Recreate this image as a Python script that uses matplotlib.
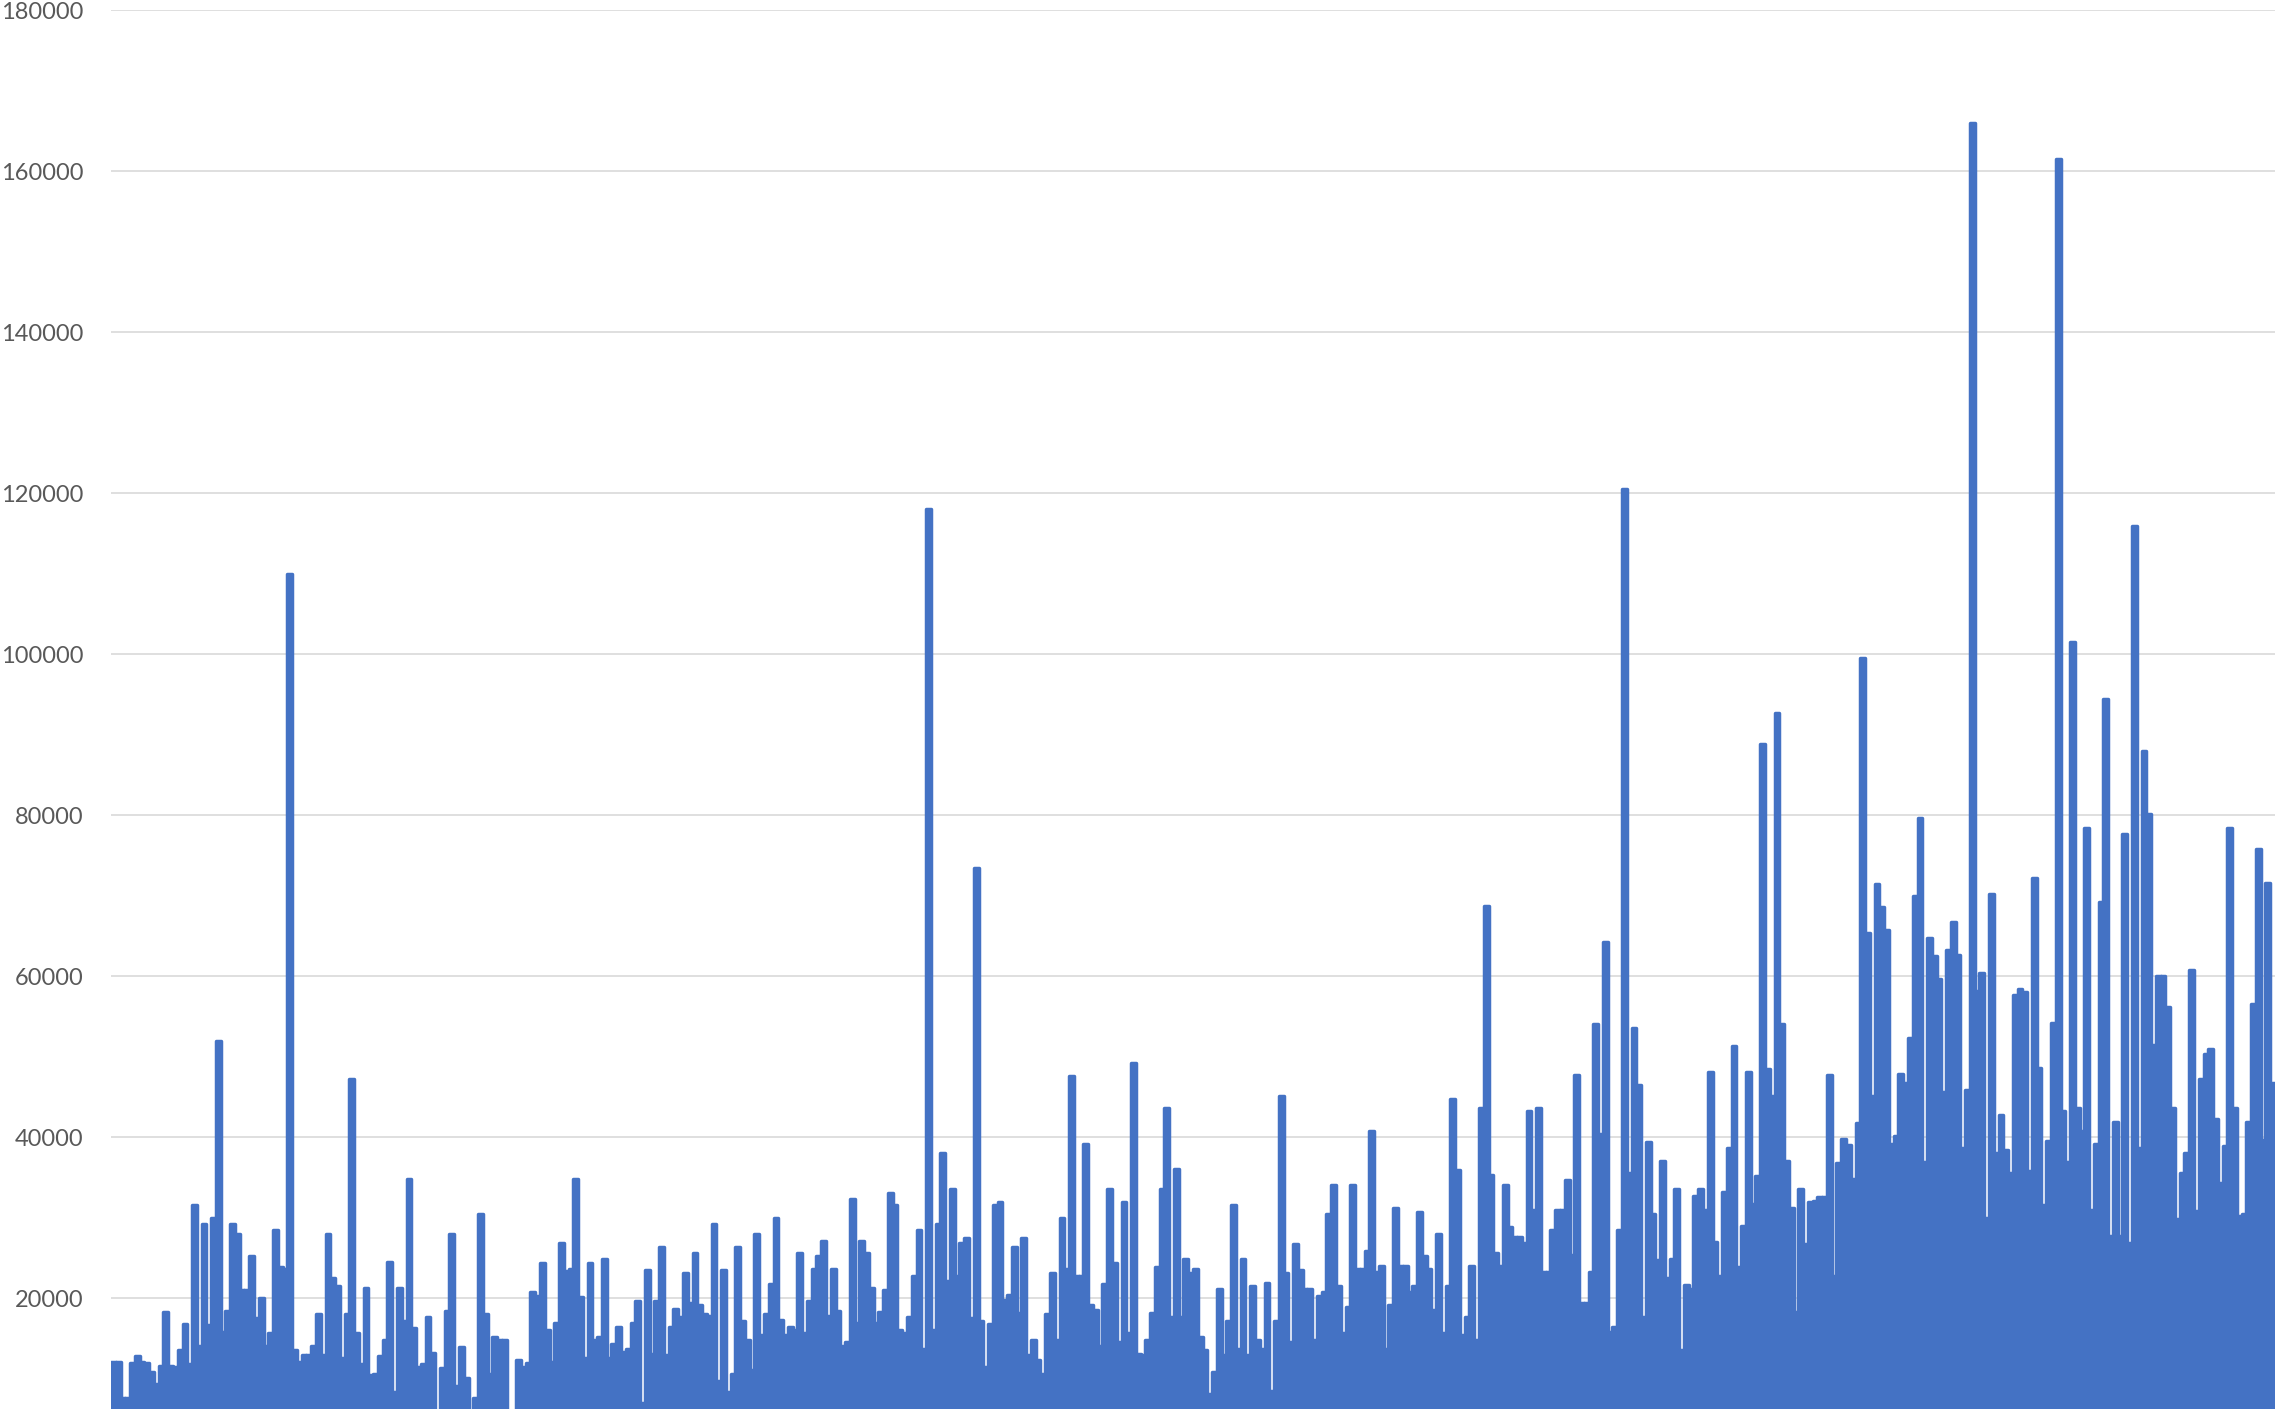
import numpy as np
import matplotlib.pyplot as plt

# values read left to right, in six strips across the chart
seg1 = [12000, 12000, 7600, 7600, 11900, 12800, 12000, 11900, 10800, 9300, 11600,
        18300, 11600, 11400, 13600, 16800, 11800, 31600, 14100, 29200, 16600,
        30000, 51900, 15800, 18400, 29200, 28000, 21000, 21000, 25200, 17500,
        20000, 14100, 15600, 28400, 23800, 23600, 110000, 13600, 12000, 12900,
        12900, 14100, 18000, 12900, 28000, 22500, 21500, 12500, 18000, 47200,
        15600, 11800, 21200, 10400, 10600, 12800, 14800, 24500, 8300, 21200,
        17200, 34800, 16300, 11400, 11800, 17600, 13200, 0, 11300, 18400,
        28000, 9100, 13900, 10100, 0, 7600, 30500]
seg2 = [18000, 10600, 15200, 14800, 14800, 0, 0, 12300, 11400, 11900,
        20800, 20200, 24400, 16000, 12000, 16900, 26800, 23400, 23600,
        34800, 20100, 12500, 24400, 14800, 15200, 24800, 12500, 14300, 16400,
        13300, 13700, 16900, 19600, 7000, 23500, 13100, 19600, 26400, 12900,
        16400, 18700, 17700, 23100, 19400, 25600, 19100, 18000, 17800, 29200,
        9700, 23500, 8300, 10600, 26300, 17200, 14800, 11000, 28000, 15400,
        18000, 21700, 29900, 17300, 15400, 16400, 16000, 25600, 15700,
        19600, 23600, 25200, 27100, 17800, 23600]
seg3 = [18400, 14100, 14500, 32300, 16900, 27100, 25600, 21200, 16900, 18300,
        21000, 33100, 31600, 16000, 15600, 17700, 22800, 28400, 13700, 118000,
        16000, 29200, 38000, 22100, 33600, 22700, 26900, 27500, 17500, 73500,
        17100, 11400, 16800, 31600, 31900, 19800, 20400, 26400, 18100, 27500,
        12900, 14800, 12300, 10600, 18000, 23100, 14800, 30000, 23600,
        47600, 22800, 22700, 39200, 19100, 18500, 14100, 21700, 33600, 24400,
        14500, 32000, 15600, 49200, 13100, 12900, 14800, 18100, 23800,
        33600, 43600, 17700, 36000, 17700, 24800, 23100]
seg4 = [23600, 15200, 13600, 8100, 10800, 21100, 12900, 17200, 31600,
        13700, 24800, 12900, 21500, 14800, 13700, 21900, 8500, 17100,
        45100, 23100, 14500, 26700, 23500, 21100, 21100, 14800, 20300, 20700,
        30500, 34000, 21500, 15600, 18900, 34000, 23600, 23600, 25900, 40800,
        23200, 24000, 13700, 19200, 31200, 24000, 24000, 20800, 21500, 30700,
        25200, 23600, 18500, 28000, 15600, 21500, 44700, 35900, 15400, 17700,
        24000, 14800, 43600, 68700, 35300, 25600, 24000, 34000, 28800, 27600,
        27600, 26900, 43200, 30900, 43600, 23300, 23300]
seg5 = [28400, 30900, 30900, 34700, 25400, 47700, 19400, 19400, 23300, 54100,
        40400, 64200, 15800, 16400, 28500, 120500, 35600, 53500, 46500, 17700,
        39400, 30400, 24700, 37000, 22500, 24800, 33600, 13500, 21600, 21100,
        32700, 33600, 30900, 48100, 27000, 22800, 33200, 38700, 51300, 23900,
        28900, 48100, 31700, 35200, 88800, 48500, 45100, 92700, 54100, 37000,
        31200, 18300, 33500, 26700, 32000, 32100, 32600, 32600, 47700, 22800,
        36800, 39800, 39000, 34800, 41800, 99500, 65400, 45100, 71400, 68600,
        65800, 39100, 40100, 47800, 46700]
seg6 = [52300, 70000, 79600, 36900, 64700, 62500, 59700, 45600, 63200, 66700,
        62600, 38600, 45900, 166000, 58200, 60400, 29900, 70200, 38000, 42800,
        38400, 35500, 57700, 58400, 58000, 35800, 72200, 48600, 31600, 39500,
        54200, 161500, 43200, 36900, 101500, 43600, 40800, 78400, 31000, 39100,
        69200, 94500, 27700, 41900, 27700, 77700, 26900, 116000, 38600, 88000,
        80200, 51400, 60000, 60000, 56200, 43600, 29800, 35500, 38000, 60800,
        30800, 47200, 50300, 51000, 42300, 34300, 38900, 78400, 43600, 30200,
        30500, 41900, 56500, 75800, 39700, 71600, 46700]

values = np.array(seg1 + seg2 + seg3 + seg4 + seg5 + seg6)
x = np.arange(len(values))
yticks = [20000, 40000, 60000, 80000, 100000, 120000, 140000, 160000, 180000]

blue = "#4472C4"

fig = plt.figure(figsize=(22.75, 14.09), dpi=100)
# plot area runs below the bottom edge of the picture (chart is cropped)
ax = fig.add_axes([0.0488, -0.0355, 0.9512, 1.02805])

ax.bar(x, values, width=1.0, color=blue, edgecolor=blue, linewidth=2.5,
       joinstyle="round")

ax.set_xlim(-0.5, len(values) - 0.5)
ax.set_ylim(0, 180000)
ax.set_yticks(yticks)
ax.set_yticklabels([str(v) for v in yticks], fontfamily="Lato",
                   fontsize=17, color="#595959")
ax.set_xticks([])
ax.tick_params(axis="y", length=0, pad=20)
ax.grid(axis="y", color="#D9D9D9", linewidth=1.2)
ax.set_axisbelow(True)
for s in ax.spines.values():
    s.set_visible(False)

fig.savefig("out.png", dpi=100)
